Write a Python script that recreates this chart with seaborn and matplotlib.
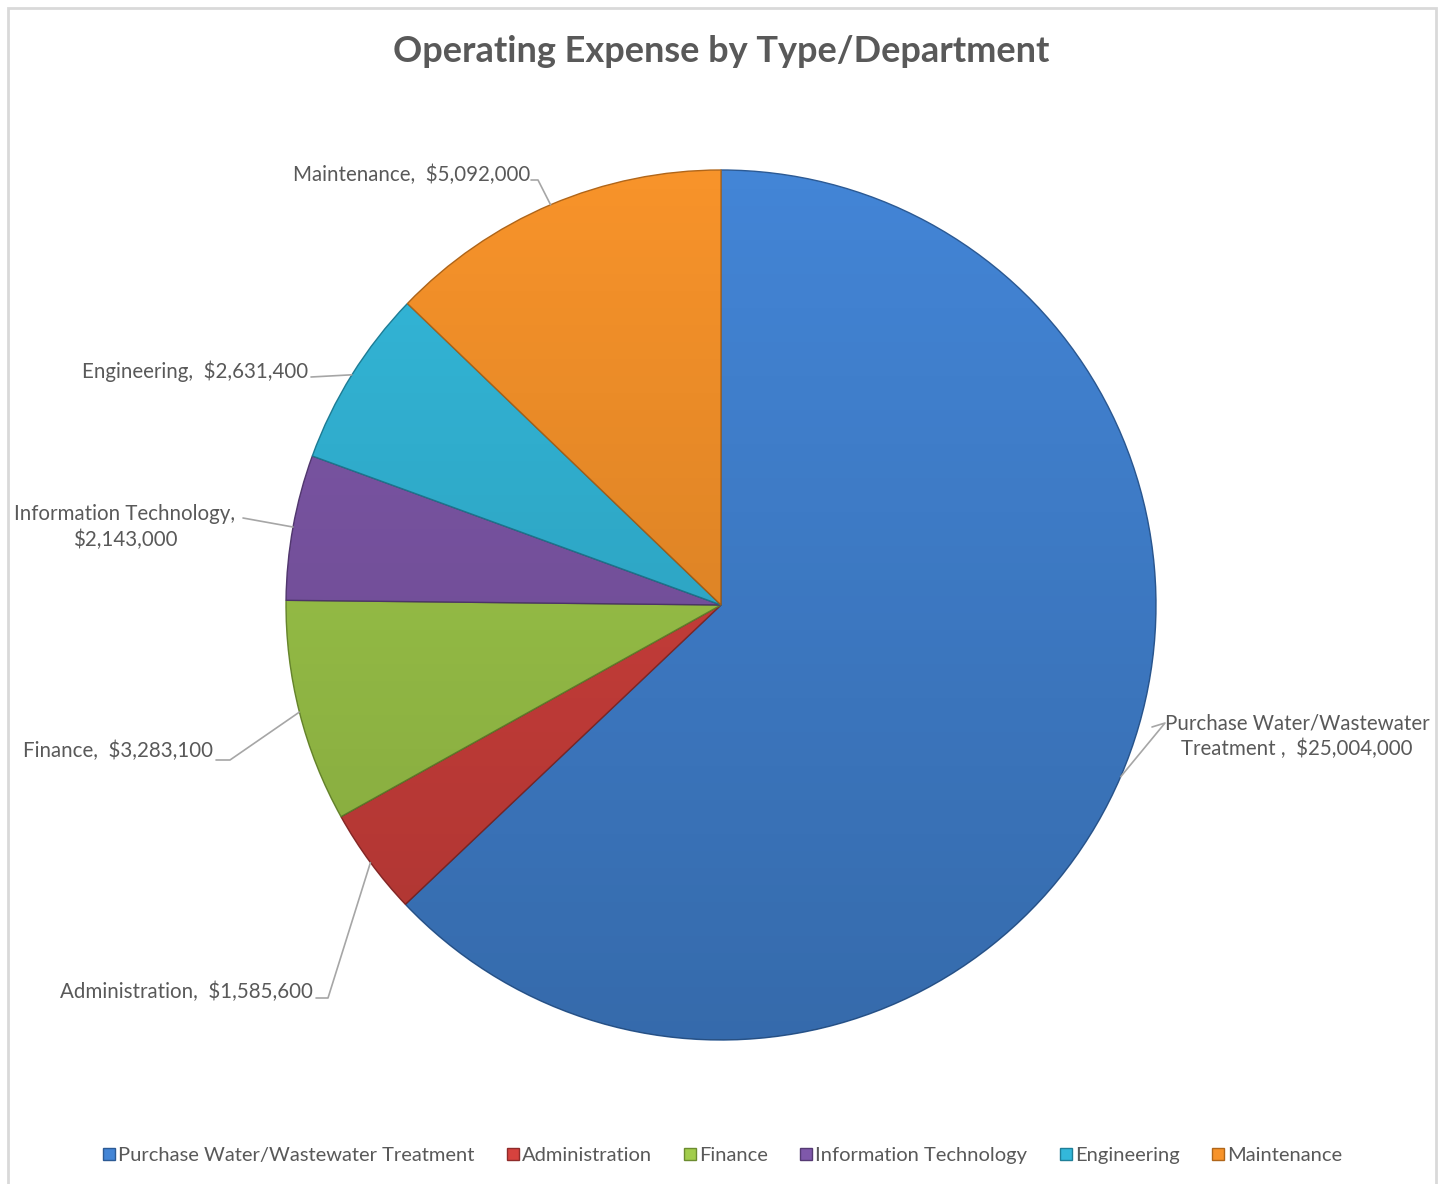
import matplotlib.pyplot as plt
import seaborn as sns
import numpy as np
from matplotlib.patches import Rectangle, Circle
from matplotlib.lines import Line2D

# 数据
departments = ['Purchase Water/Wastewater Treatment', 'Administration', 'Finance',
               'Information Technology', 'Engineering', 'Maintenance']
expenses = [25004000, 1585600, 3283100, 2143000, 2631400, 5092000]
label_texts = ['Purchase Water/Wastewater\nTreatment ,  $25,004,000',
               'Administration,  $1,585,600',
               'Finance,  $3,283,100',
               'Information Technology,\n$2,143,000',
               'Engineering,  $2,631,400',
               'Maintenance,  $5,092,000']
slice_colors = ['#4385d6', '#d6423e', '#a2cd4c', '#7f58aa', '#33b8da', '#f7932a']
edge_colors = ['#2c5a94', '#8e2b2a', '#6c8c30', '#553a73', '#1f7f98', '#b0661a']

sns.set_theme(style="white")
plt.rcParams['font.family'] = ['Lato', 'DejaVu Sans']
text_color = '#595959'

W, H = 1443, 1184
fig = plt.figure(figsize=(W / 100, H / 100), dpi=100)
fig.patch.set_facecolor('white')

# 外框
fig.patches.append(Rectangle((8 / W, -0.01), (1436 - 8) / W, 1 - 8 / H + 0.01,
                             transform=fig.transFigure, fill=False,
                             edgecolor='#d9d9d9', lw=2))

# 饼图位置 (像素)
cx, cy, R = 721, 605, 435
ax = fig.add_axes([(cx - R) / W, (H - cy - R) / H, 2 * R / W, 2 * R / H])
palette = sns.color_palette(slice_colors)
wedges, _ = ax.pie(expenses, colors=palette, startangle=90, counterclock=False,
                   radius=1, wedgeprops=dict(linewidth=1.0))
for w, ec in zip(wedges, edge_colors):
    w.set_edgecolor(ec)

# 模拟渐变阴影
grad = np.linspace(0, 1, 256).reshape(-1, 1)
shade = np.zeros((256, 1, 4))
shade[..., 3] = 0.2 * grad
img = ax.imshow(shade, extent=(-1, 1, -1, 1), origin='upper', aspect='auto',
                zorder=3, interpolation='bilinear')
img.set_clip_path(Circle((0, 0), 1, transform=ax.transData))

ax.set_xlim(-1, 1)
ax.set_ylim(-1, 1)
ax.set_aspect('equal')
ax.axis('off')


def px(x, y):
    return (x - cx) / R, (cy - y) / R


# 标签位置与引导线 (像素)
label_pos = [
    (1297, 736, 'center', [(1165, 723), (1152, 727)]),
    (313, 992, 'right', [(328, 998), (316, 998)]),
    (213, 751, 'right', [(230, 760), (216, 760)]),
    (125, 527, 'center', [(243, 518)]),
    (308, 371, 'right', [(311, 377)]),
    (530, 175, 'right', [(538, 180), (531, 180)]),
]

for w, txt, (tx, ty, ha, pts) in zip(wedges, label_texts, label_pos):
    ang = np.deg2rad((w.theta1 + w.theta2) / 2)
    xs = [np.cos(ang)] + [px(*p)[0] for p in pts]
    ys = [np.sin(ang)] + [px(*p)[1] for p in pts]
    ax.plot(xs, ys, color='#a6a6a6', lw=1.2, clip_on=False)
    lx, ly = px(tx, ty)
    ax.text(lx, ly, txt, ha=ha, va='center', fontsize=14.8, color=text_color,
            linespacing=1.3, clip_on=False)

fig.text(0.5, 1 - 52 / H, 'Operating Expense by Type/Department', ha='center',
         va='center', fontsize=26, fontweight='bold', color=text_color)

handles = [Line2D([0], [0], marker='s', linestyle='', markersize=8,
                  markerfacecolor=c, markeredgecolor=e)
           for c, e in zip(slice_colors, edge_colors)]
leg = fig.legend(handles, departments, loc='center', bbox_to_anchor=(0.5, 1 - 1155 / H),
                 ncol=6, frameon=False, fontsize=14.5, handletextpad=0.05,
                 columnspacing=1.5, handlelength=0.8)
for t in leg.get_texts():
    t.set_color(text_color)

fig.savefig('out.png', dpi=100)
